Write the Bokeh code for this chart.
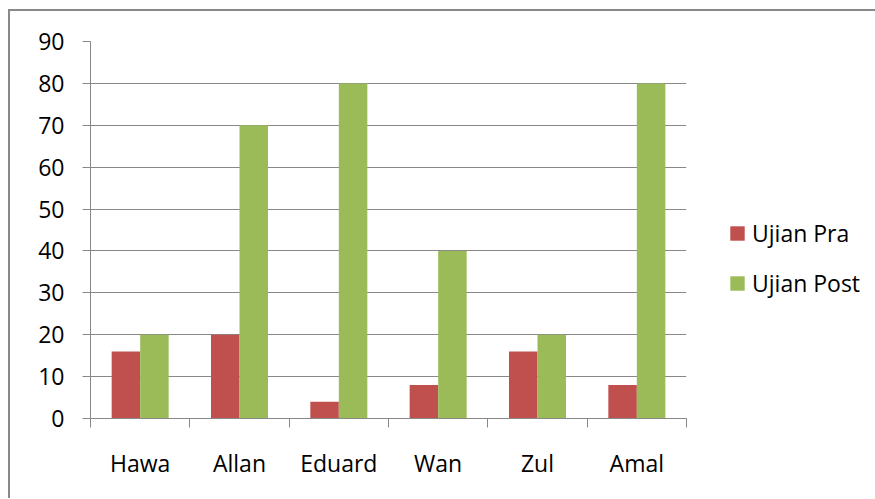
from bokeh.plotting import figure
from bokeh.models import FixedTicker, Legend, LegendItem, ColumnDataSource
from bokeh.embed import file_html
from bokeh.resources import INLINE
import numpy as np

names = ["Hawa", "Allan", "Eduard", "Wan", "Zul", "Amal"]
ujian_pra = [16, 20, 4, 8, 16, 8]
ujian_post = [20, 70, 80, 40, 20, 80]
y_ticks = [0, 10, 20, 30, 40, 50, 60, 70, 80, 90]

FONT = "Open Sans"
GRAY = "#888888"
FS = "23px"
RED = "#c0504d"
GREEN = "#9bbb59"

idx = np.arange(len(names)) + 0.5
bw = 0.287
src = ColumnDataSource(dict(
    x_pra=idx - bw / 2, x_post=idx + bw / 2, pra=ujian_pra, post=ujian_post))

p = figure(frame_width=596, frame_height=377, x_range=(0, len(names)), y_range=(0, 90),
           output_backend="svg", toolbar_location=None,
           min_border_left=80, min_border_top=30, min_border_right=189,
           min_border_bottom=80)
p.styles = {"border-left": f"2px solid {GRAY}", "border-top": f"2px solid {GRAY}",
            "margin-top": "9px", "margin-left": "8px"}
p.outline_line_color = None

r1 = p.vbar(x="x_pra", top="pra", width=bw, source=src, fill_color=RED, line_color=None)
r2 = p.vbar(x="x_post", top="post", width=bw, source=src, fill_color=GREEN, line_color=None)

# x axis
xt = FixedTicker(ticks=list(idx), minor_ticks=list(range(len(names) + 1)))
p.xaxis.ticker = xt
p.xaxis.major_label_overrides = {float(v): n for v, n in zip(idx, names)}
p.xaxis.major_tick_out = 0
p.xaxis.major_tick_in = 0
p.xaxis.minor_tick_out = 9
p.xaxis.minor_tick_in = 0
p.xaxis.minor_tick_line_color = GRAY
p.xaxis.axis_line_color = GRAY
p.xaxis.major_label_standoff = 19
p.xaxis.major_label_text_font = FONT
p.xaxis.major_label_text_font_size = FS
p.xaxis.major_label_text_color = "black"
p.xgrid.grid_line_color = None

# y axis
p.yaxis.ticker = FixedTicker(ticks=y_ticks, minor_ticks=[])
p.yaxis.major_tick_out = 8
p.yaxis.major_tick_in = 0
p.yaxis.major_tick_line_color = GRAY
p.yaxis.axis_line_color = GRAY
p.yaxis.major_label_standoff = 18
p.yaxis.major_label_text_font = FONT
p.yaxis.major_label_text_font_size = FS
p.yaxis.major_label_text_color = "black"
p.ygrid.ticker = FixedTicker(ticks=y_ticks)
p.ygrid.grid_line_color = GRAY
p.ygrid.grid_line_width = 1

legend = Legend(items=[LegendItem(label="Ujian Pra", renderers=[r1]),
                       LegendItem(label="Ujian Post", renderers=[r2])],
                location=(42, 119), orientation="vertical",
                border_line_color=None, background_fill_alpha=0,
                padding=0, margin=0, spacing=18, glyph_width=18, glyph_height=18,
                label_height=18, label_standoff=6,
                label_text_font=FONT, label_text_font_size=FS,
                label_text_color="black")
p.add_layout(legend, "right")

open("out.html", "w").write(file_html(p, INLINE))
